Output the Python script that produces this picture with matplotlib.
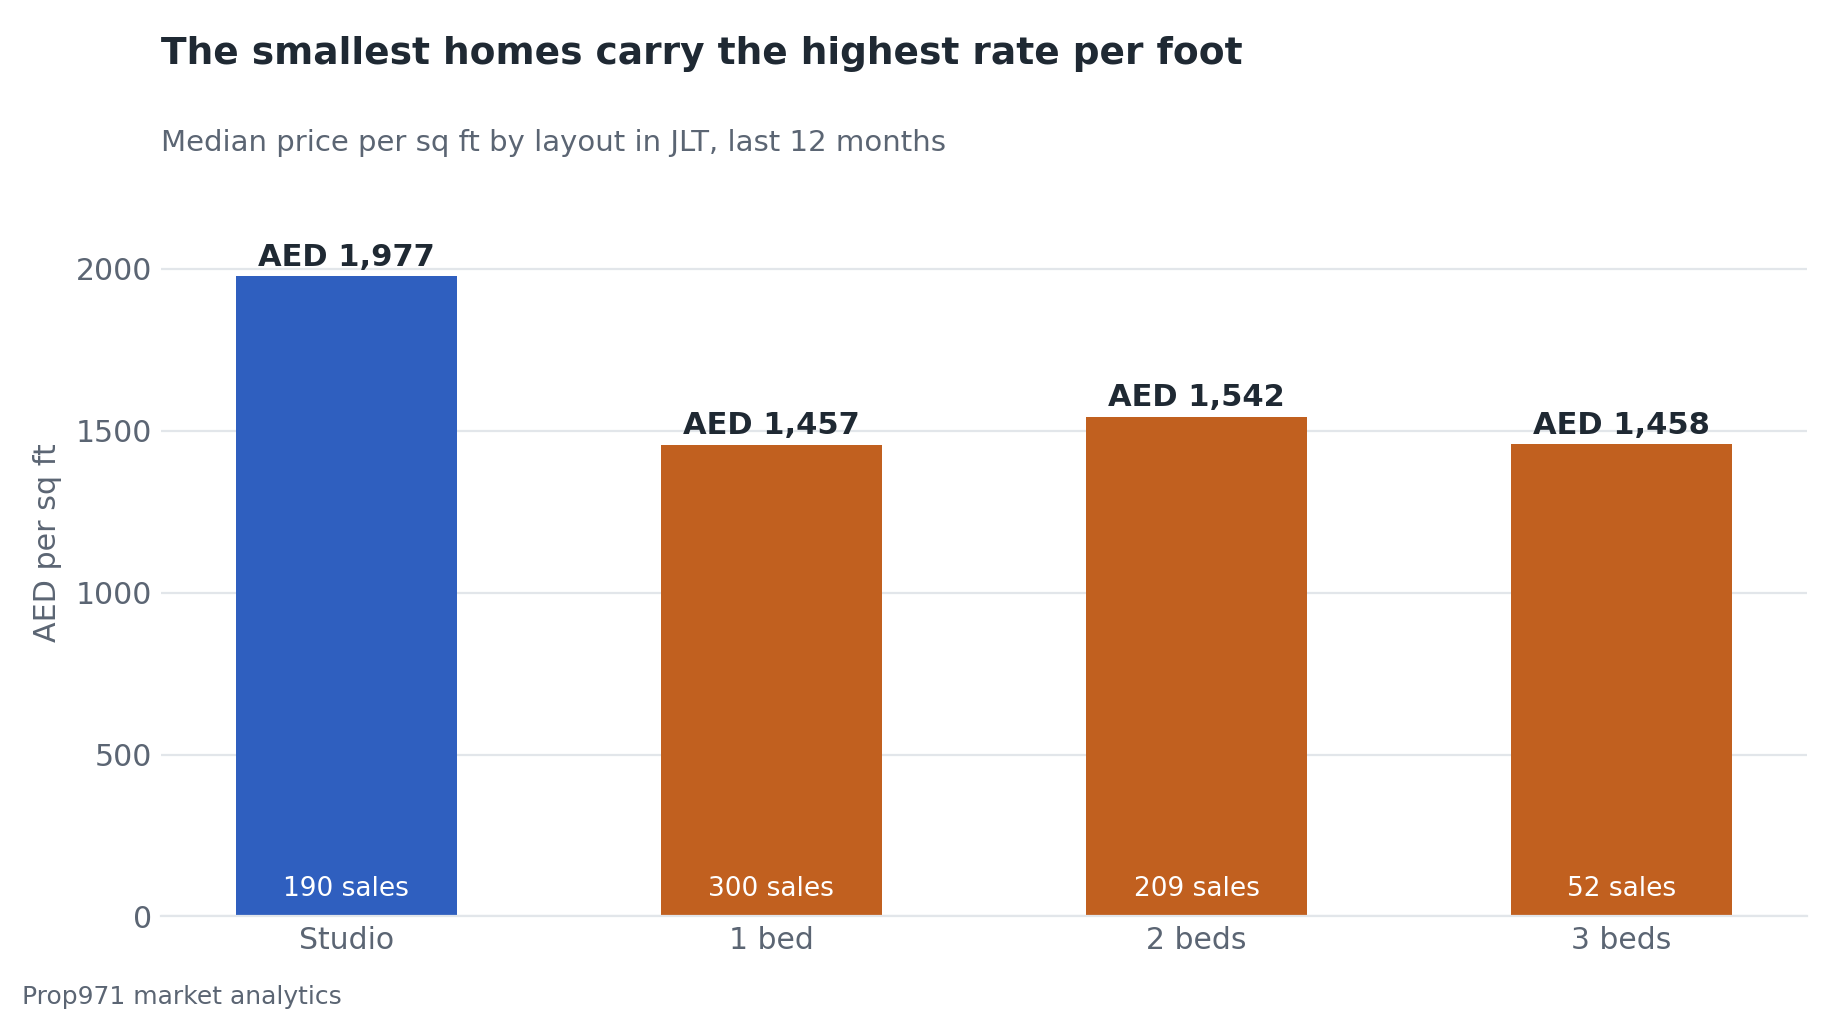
import matplotlib
matplotlib.use("Agg")
import matplotlib.pyplot as plt

# data
layouts = ["Studio", "1 bed", "2 beds", "3 beds"]
price_per_sqft = [1977, 1457, 1542, 1458]
sales_count = [190, 300, 209, 52]
highlight = "Studio"

BLUE = "#2F5FBF"
ORANGE = "#C1601F"
DARK = "#1F2933"
GREY = "#5B6573"
GRID = "#E2E6EA"

fig = plt.figure(figsize=(18.39, 10.19), dpi=100)
ax = fig.add_axes([0.0875, 0.1006, 0.8951, 0.7331])

colors = [BLUE if l == highlight else ORANGE for l in layouts]
x = list(range(len(layouts)))
bars = ax.bar(x, price_per_sqft, width=0.52, color=colors, zorder=2)

ax.set_ylim(0, 2307)
ax.set_yticks([0, 500, 1000, 1500, 2000])
ax.set_xticks(x)
ax.set_xticklabels(layouts)
ax.grid(axis="y", color=GRID, linewidth=1.6, zorder=0)
ax.set_axisbelow(True)
for s in ["top", "right", "left"]:
    ax.spines[s].set_visible(False)
ax.spines["bottom"].set_color(GRID)
ax.spines["bottom"].set_linewidth(1.6)
ax.tick_params(axis="both", length=0, labelsize=21.5, labelcolor=GREY)
ax.tick_params(axis="y", pad=6.5)
ax.tick_params(axis="x", pad=6.5)

ax.set_ylabel("AED per sq ft", fontsize=21.7, color=GREY, va="center")
ax.yaxis.set_label_coords(-0.0688, 0.5)

# value labels above and sales counts inside the bars
for xi, v, n in zip(x, price_per_sqft, sales_count):
    ax.annotate(f"AED {v:,}", xy=(xi, v), xytext=(0, 7.7), textcoords="offset points",
                ha="center", va="baseline", fontsize=22, fontweight="bold", color=DARK)
    ax.annotate(f"{n} sales", xy=(xi, 0), xytext=(0, 19.5), textcoords="offset points",
                ha="center", va="center", fontsize=19, color="white")

fig.text(0.0875, 0.937, "The smallest homes carry the highest rate per foot",
         fontsize=27, fontweight="bold", color=DARK, va="baseline")
fig.text(0.0875, 0.852, "Median price per sq ft by layout in JLT, last 12 months",
         fontsize=21, color=GREY, va="baseline")
fig.text(0.012, 0.0147, "Prop971 market analytics", fontsize=18, color=GREY, va="baseline")

fig.savefig("out.png", dpi=100, facecolor="white")
